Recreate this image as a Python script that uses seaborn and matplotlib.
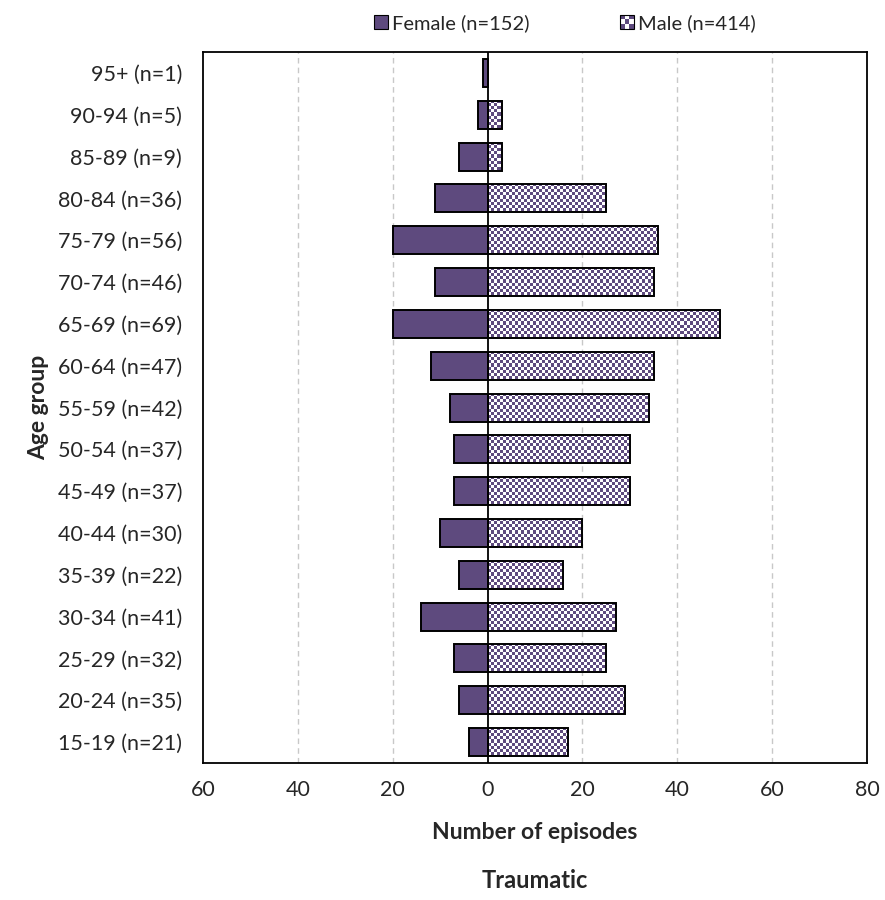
#!/usr/bin/env python3
"""plot.py – population pyramid of traumatic episodes by age group and sex."""
import numpy as np
import pandas as pd
import matplotlib
matplotlib.use("Agg")
import matplotlib.pyplot as plt
from matplotlib.colors import ListedColormap
from matplotlib.patches import Patch, Rectangle
from matplotlib.legend_handler import HandlerBase
import seaborn as sns

age_groups = ["95+ (n=1)", "90-94 (n=5)", "85-89 (n=9)", "80-84 (n=36)", "75-79 (n=56)",
              "70-74 (n=46)", "65-69 (n=69)", "60-64 (n=47)", "55-59 (n=42)", "50-54 (n=37)",
              "45-49 (n=37)", "40-44 (n=30)", "35-39 (n=22)", "30-34 (n=41)", "25-29 (n=32)",
              "20-24 (n=35)", "15-19 (n=21)"]
female = [1, 2, 6, 11, 20, 11, 20, 12, 8, 7, 7, 10, 6, 14, 7, 6, 4]
male = [0, 3, 3, 25, 36, 35, 49, 35, 34, 30, 30, 20, 16, 27, 25, 29, 17]
sex_labels = ["Female (n=152)", "Male (n=414)"]
x_ticks = [-60, -40, -20, 0, 20, 40, 60, 80]

PURPLE = "#5E4A7E"
FONT = ["Lato", "DejaVu Sans"]
AX = [0.2294, 0.1522, 0.9797 - 0.2294, 0.9422 - 0.1522]

sns.set_theme(style="white")
plt.rcParams["font.family"] = FONT

df = pd.concat([
    pd.DataFrame({"age": age_groups, "sex": "Female", "value": [-v for v in female]}),
    pd.DataFrame({"age": age_groups, "sex": "Male", "value": male}),
])

fig = plt.figure(figsize=(8.85, 9.0), dpi=100)
ax = fig.add_axes(AX)

sns.barplot(data=df, y="age", x="value", hue="sex", hue_order=["Female", "Male"],
            order=age_groups, dodge=False, orient="h", width=0.67, ax=ax,
            palette={"Female": PURPLE, "Male": "white"}, legend=False,
            edgecolor="black", linewidth=1.4, saturation=1)

ax.set_xlim(-60, 80)
ax.set_ylim(len(age_groups) - 0.5, -0.5)
xlim, ylim = ax.get_xlim(), ax.get_ylim()

# checkered fill for the male bars, clipped to each bar (3 px squares)
checker_cmap = ListedColormap(["white", PURPLE])
for patch in ax.containers[1]:
    bb = patch.get_bbox()
    if bb.width <= 0:
        continue
    p0, p1 = ax.transData.transform([[bb.x0, bb.y0], [bb.x1, bb.y1]])
    wpx, hpx = abs(p1[0] - p0[0]), abs(p1[1] - p0[1])
    ncol = int(np.ceil(wpx / 3.0))
    nrow = int(np.ceil(hpx / 3.0))
    ii, jj = np.indices((nrow, ncol))
    board = (ii + jj) % 2
    im = ax.imshow(board, cmap=checker_cmap,
                   extent=(bb.x0, bb.x0 + ncol * 3.0 * bb.width / wpx,
                           bb.y0 + nrow * 3.0 * bb.height / hpx, bb.y0),
                   aspect="auto", interpolation="nearest", zorder=1.5)
    im.set_clip_path(patch)
    patch.set_facecolor("none")
    patch.set_zorder(2)
for patch in ax.containers[0]:
    patch.set_zorder(2)
ax.set_xlim(xlim)
ax.set_ylim(ylim)

ax.axvline(0, color="black", lw=1.3, zorder=3)
for x in x_ticks:
    if x not in (-60, 0, 80):
        ax.axvline(x, color="#c8c8c8", lw=1.0, ls=(0, (4, 3)), zorder=0.5)

ax.set_xticks(x_ticks)
ax.set_xticklabels([str(abs(t)) for t in x_ticks], fontsize=15.5)
ax.tick_params(axis="y", labelsize=15.5, length=0, pad=15)
ax.tick_params(axis="x", length=0, pad=12)
for s in ax.spines.values():
    s.set_color("black")
    s.set_linewidth(1.3)

ax.set_xlabel("Number of episodes", fontsize=16.5, fontweight="bold", labelpad=16)
ax.set_ylabel("Age group", fontsize=16.5, fontweight="bold", labelpad=6)
fig.text(AX[0] + AX[2] / 2, 1 - 880 / 900, "Traumatic", ha="center", va="center",
         fontsize=17, fontweight="bold")


class CheckerHandler(HandlerBase):
    def create_artists(self, legend, orig_handle, xdescent, ydescent, width, height, fontsize, trans):
        size = height
        x0, y0 = -xdescent + (width - size), -ydescent
        arts = [Rectangle((x0, y0), size, size, fc="white", ec="none", transform=trans)]
        n = 3
        s = size / n
        for i in range(n):
            for j in range(n):
                if (i + j) % 2 == 0:
                    arts.append(Rectangle((x0 + i * s, y0 + j * s), s, s, fc=PURPLE, ec="none", transform=trans))
        arts.append(Rectangle((x0, y0), size, size, fc="none", ec="black", lw=0.8, transform=trans))
        return arts


h_f = Patch(facecolor=PURPLE, edgecolor="black", lw=0.8)
h_m = Patch(facecolor="white", edgecolor="black")
ax.legend([h_f, h_m], sex_labels, handler_map={h_m: CheckerHandler()}, loc="lower center",
          bbox_to_anchor=(0.545, 1.0), ncol=2, frameon=False, fontsize=14.5,
          handlelength=0.7, handleheight=0.7, handletextpad=0.2, columnspacing=4.5,
          borderaxespad=0.6)

fig.savefig("out.png", dpi=100)
